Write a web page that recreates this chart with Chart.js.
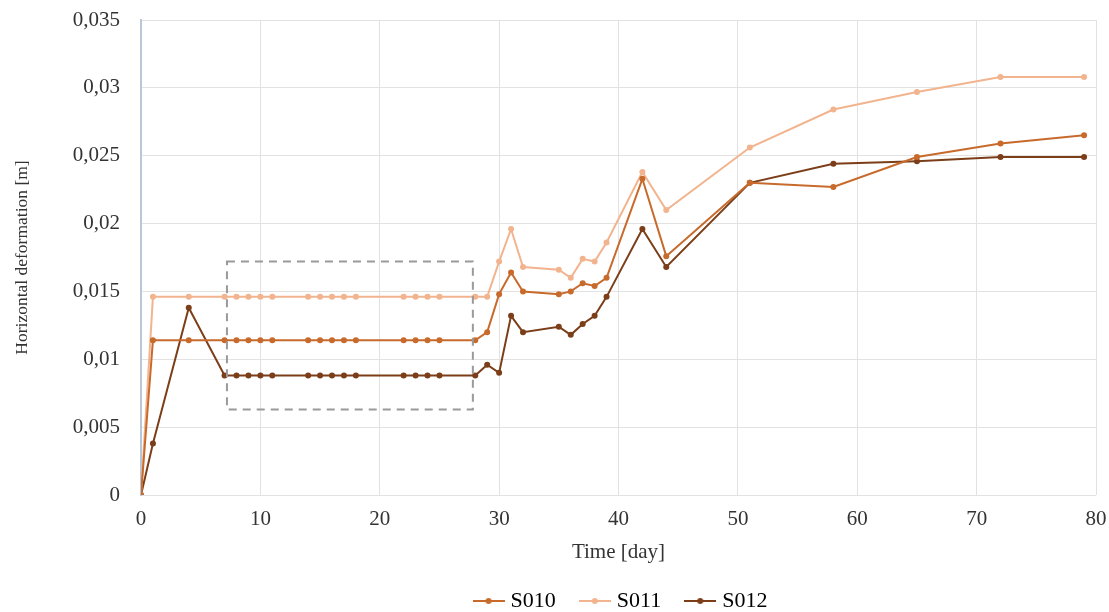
<!DOCTYPE html>
<html>
<head>
<meta charset="utf-8">
<script src="https://cdn.jsdelivr.net/npm/chart.js@4/dist/chart.umd.min.js"></script>
<style>
  html, body { margin: 0; padding: 0; background: #fff; }
  #wrap { width: 1109px; height: 612px; }
</style>
</head>
<body>
<div id="wrap"><canvas id="chart" width="1109" height="612"></canvas></div>
<script>
// days of measurement
const days = [0, 1, 4, 7, 8, 9, 10, 11, 14, 15, 16, 17, 18, 22, 23, 24, 25, 28, 29,
              30, 31, 32, 35, 36, 37, 38, 39, 42, 44, 51, 58, 65, 72, 79];

const s010 = [0, 0.0114, 0.0114, 0.0114, 0.0114, 0.0114, 0.0114, 0.0114, 0.0114, 0.0114,
              0.0114, 0.0114, 0.0114, 0.0114, 0.0114, 0.0114, 0.0114, 0.0114, 0.0120,
              0.0148, 0.0164, 0.0150, 0.0148, 0.0150, 0.0156, 0.0154, 0.0160, 0.0233,
              0.0176, 0.0230, 0.0227, 0.0249, 0.0259, 0.0265];

const s011 = [0, 0.0146, 0.0146, 0.0146, 0.0146, 0.0146, 0.0146, 0.0146, 0.0146, 0.0146,
              0.0146, 0.0146, 0.0146, 0.0146, 0.0146, 0.0146, 0.0146, 0.0146, 0.0146,
              0.0172, 0.0196, 0.0168, 0.0166, 0.0160, 0.0174, 0.0172, 0.0186, 0.0238,
              0.0210, 0.0256, 0.0284, 0.0297, 0.0308, 0.0308];

const s012 = [0, 0.0038, 0.0138, 0.0088, 0.0088, 0.0088, 0.0088, 0.0088, 0.0088, 0.0088,
              0.0088, 0.0088, 0.0088, 0.0088, 0.0088, 0.0088, 0.0088, 0.0088, 0.0096,
              0.0090, 0.0132, 0.0120, 0.0124, 0.0118, 0.0126, 0.0132, 0.0146, 0.0196,
              0.0168, 0.0230, 0.0244, 0.0246, 0.0249, 0.0249];

const seriesNames = ['S010', 'S011', 'S012'];
const seriesColors = ['#c76a2c', '#f2b48e', '#7b3e19'];

// highlighted period (dashed box), in data units
const boxDays = [7.2, 27.8];
const boxValues = [0.0063, 0.0172];

const FONT = '"Liberation Serif", "Times New Roman", serif';
const LEGEND_PAD = 28;

const toPoints = vals => vals.map((v, i) => ({ x: days[i], y: v }));

// legend marker: short line with a dot
const makeMarker = color => {
    const c = document.createElement('canvas');
    c.width = 32; c.height = 10;
    const g = c.getContext('2d');
    g.strokeStyle = color;
    g.lineWidth = 2;
    g.beginPath(); g.moveTo(0, 5); g.lineTo(32, 5); g.stroke();
    g.fillStyle = color;
    g.beginPath(); g.arc(16, 5, 3, 0, Math.PI * 2); g.fill();
    return c;
};

const dashedBox = {
    id: 'dashedBox',
    afterDatasetsDraw(chart) {
        const { ctx, scales: { x, y } } = chart;
        const x0 = x.getPixelForValue(boxDays[0]);
        const x1 = x.getPixelForValue(boxDays[1]);
        const y0 = y.getPixelForValue(boxValues[1]);
        const y1 = y.getPixelForValue(boxValues[0]);
        ctx.save();
        ctx.strokeStyle = '#9a9a9a';
        ctx.lineWidth = 2;
        ctx.setLineDash([8, 6]);
        ctx.strokeRect(x0, y0, x1 - x0, y1 - y0);
        ctx.restore();
    }
};

// center the legend under the plot area and put it near the bottom edge
const legendPlace = {
    id: 'legendPlace',
    afterLayout(chart) {
        const lg = chart.legend;
        lg.left = chart.chartArea.left + 4;
        lg.right = chart.chartArea.right + 4;
        lg.top = 602 - LEGEND_PAD - 12;
    }
};

const fmt = v => {
    if (Math.abs(v) < 1e-9) return '0';
    return v.toFixed(3).replace(/0+$/, '').replace('.', ',');
};

new Chart(document.getElementById('chart'), {
    type: 'line',
    data: {
        datasets: [s010, s011, s012].map((vals, i) => ({
            label: seriesNames[i],
            data: toPoints(vals),
            borderColor: seriesColors[i],
            backgroundColor: seriesColors[i],
            borderWidth: 2,
            pointRadius: 3,
            pointHoverRadius: 3,
            pointBorderWidth: 0,
            pointStyle: 'circle',
            tension: 0
        }))
    },
    options: {
        responsive: false,
        animation: false,
        layout: { padding: { left: 12, right: 13, top: 20, bottom: 0 } },
        scales: {
            x: {
                type: 'linear',
                min: 0, max: 80,
                ticks: { stepSize: 10, color: '#333', font: { family: FONT, size: 21 }, padding: 12 },
                grid: { color: '#e2e2e2', drawTicks: false },
                border: { display: false },
                title: { display: true, text: 'Time [day]', color: '#333', font: { family: FONT, size: 21 }, padding: { top: 0, bottom: 10 } },
                afterFit: s => { s.height = 80; s.paddingLeft = 0; s.paddingRight = 0; }
            },
            y: {
                min: 0, max: 0.035,
                ticks: { stepSize: 0.005, color: '#333', font: { family: FONT, size: 21 }, padding: 21, callback: v => fmt(v) },
                grid: { color: '#e2e2e2', drawTicks: false },
                border: { display: true, color: '#b9c8d8', width: 2 },
                title: { display: true, text: 'Horizontal deformation [m]', color: '#333', font: { family: FONT, size: 17.5 }, padding: 0 },
                afterFit: s => { s.width = 129; s.paddingTop = 0; s.paddingBottom = 0; }
            }
        },
        plugins: {
            legend: {
                position: 'bottom',
                maxHeight: 37,
                labels: {
                    usePointStyle: true,
                    pointStyleWidth: 22,
                    color: '#333',
                    font: { family: FONT, size: 22 },
                    padding: LEGEND_PAD,
                    generateLabels: chart => chart.data.datasets.map((d, i) => ({
                        text: d.label,
                        pointStyle: makeMarker(seriesColors[i]),
                        fillStyle: seriesColors[i],
                        strokeStyle: seriesColors[i],
                        lineWidth: 0,
                        datasetIndex: i
                    }))
                }
            },
            tooltip: { enabled: false }
        }
    },
    plugins: [dashedBox, legendPlace]
});
</script>
</body>
</html>
